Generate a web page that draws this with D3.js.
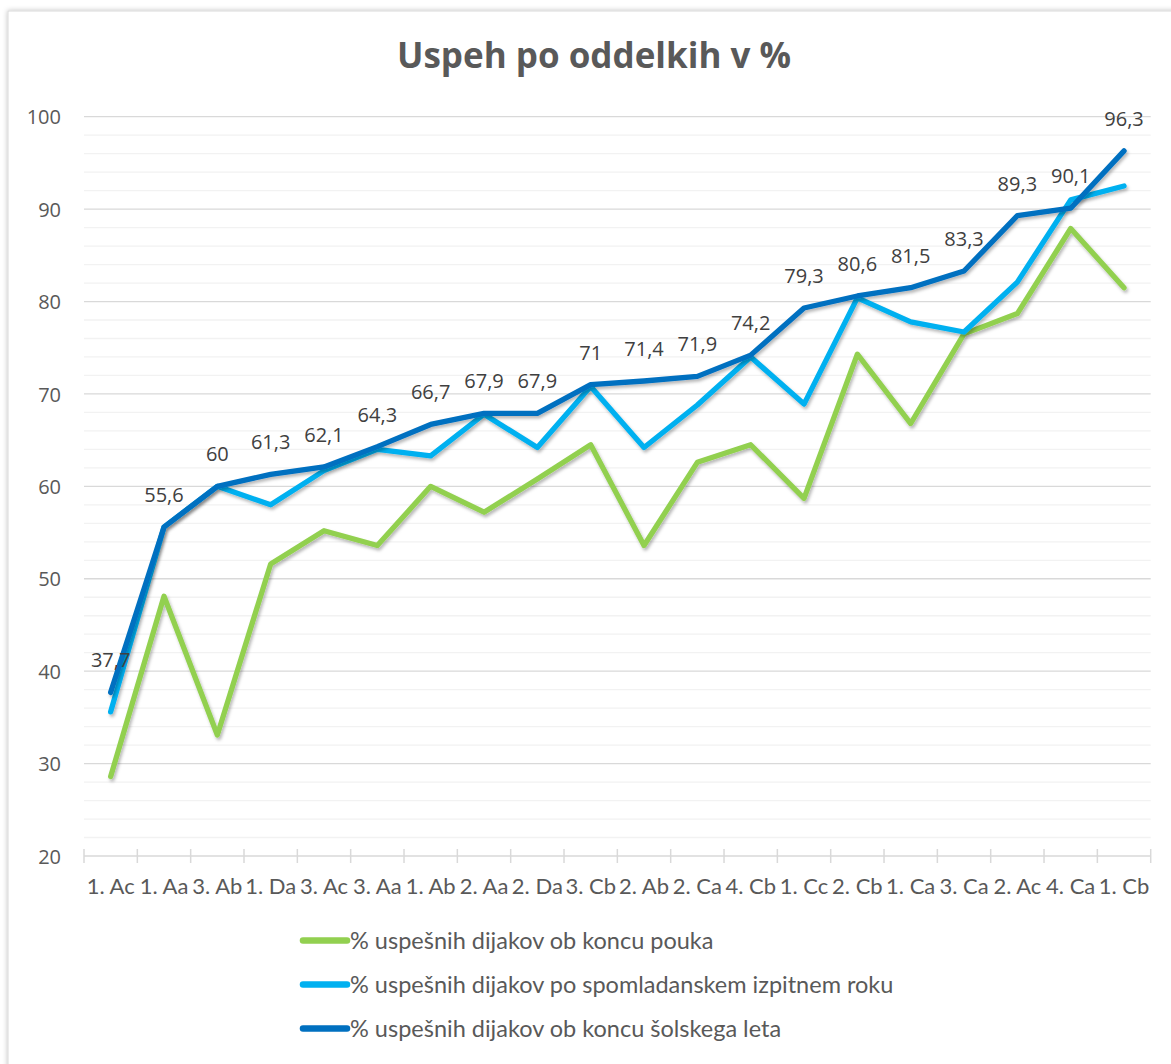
<!DOCTYPE html>
<html>
<head>
<meta charset="utf-8">
<script src="https://cdn.jsdelivr.net/npm/d3@7"></script>
<style>
  body { margin: 0; background: #fff; }
  svg { display: block; font-family: "Open Sans", sans-serif; }
</style>
</head>
<body>
<div class="chartDiv"></div>
<script>
"use strict";

// categories (oddelki)
var categories = ["1. Ac", "1. Aa", "3. Ab", "1. Da", "3. Ac", "3. Aa", "1. Ab", "2. Aa", "2. Da", "3. Cb",
                  "2. Ab", "2. Ca", "4. Cb", "1. Cc", "2. Cb", "1. Ca", "3. Ca", "2. Ac", "4. Ca", "1. Cb"];

// % uspesnih ob koncu pouka
var koncuPouka = [28.6, 48.1, 33.1, 51.6, 55.2, 53.6, 60.0, 57.2, 60.8, 64.5,
                  53.6, 62.6, 64.5, 58.7, 74.3, 66.8, 76.5, 78.7, 87.9, 81.5];
// % uspesnih po spomladanskem izpitnem roku
var spomladanski = [35.6, 55.6, 60.0, 58.0, 61.7, 64.0, 63.3, 67.8, 64.2, 70.8,
                    64.2, 68.8, 74.0, 68.9, 80.4, 77.8, 76.7, 82.1, 91.0, 92.5];
// % uspesnih ob koncu solskega leta (labelled)
var koncuLeta = [37.7, 55.6, 60, 61.3, 62.1, 64.3, 66.7, 67.9, 67.9, 71,
                 71.4, 71.9, 74.2, 79.3, 80.6, 81.5, 83.3, 89.3, 90.1, 96.3];

var yTicks = [20, 30, 40, 50, 60, 70, 80, 90, 100];
var seriesNames = ["% uspešnih dijakov ob koncu pouka",
                   "% uspešnih dijakov po spomladanskem izpitnem roku",
                   "% uspešnih dijakov ob koncu šolskega leta"];
var seriesColors = ["#92D050", "#00B0F0", "#0070C0"];

var W = 1171, H = 1064;
var plot = {left: 84, right: 1150.7, top: 116.7, bottom: 856};

var svg = d3.select(".chartDiv").append("svg")
    .attr("width", W)
    .attr("height", H);

var defs = svg.append("defs");
var shadow = defs.append("filter").attr("id", "lineShadow")
    .attr("x", "-5%").attr("y", "-5%").attr("width", "110%").attr("height", "110%");
shadow.append("feDropShadow")
    .attr("dx", 1.5).attr("dy", 2.5).attr("stdDeviation", 1.6)
    .attr("flood-color", "#000").attr("flood-opacity", 0.28);
var frameShadow = defs.append("filter").attr("id", "frameShadow")
    .attr("x", "-2%").attr("y", "-2%").attr("width", "104%").attr("height", "104%");
frameShadow.append("feDropShadow")
    .attr("dx", 0).attr("dy", 0).attr("stdDeviation", 2.5)
    .attr("flood-color", "#000").attr("flood-opacity", 0.25);

// chart frame
svg.append("rect")
    .attr("x", 8).attr("y", 11)
    .attr("width", W + 20).attr("height", H + 20)
    .attr("fill", "#fff")
    .attr("stroke", "#D9D9D9")
    .attr("stroke-width", 1)
    .attr("filter", "url(#frameShadow)");

var x = d3.scaleBand()
    .domain(categories)
    .range([plot.left, plot.right])
    .padding(0);

var y = d3.scaleLinear()
    .domain([20, 100])
    .range([plot.bottom, plot.top]);

function cx(c) { return x(c) + x.bandwidth() / 2; }

// minor gridlines every 2
svg.append("g")
  .selectAll("line")
  .data(d3.range(22, 100, 2).filter(function(v) { return v % 10 !== 0; }))
  .enter().append("line")
    .attr("x1", plot.left).attr("x2", plot.right)
    .attr("y1", function(d) { return y(d); })
    .attr("y2", function(d) { return y(d); })
    .attr("stroke", "#F2F2F2")
    .attr("stroke-width", 1.3);

// major gridlines
svg.append("g")
  .selectAll("line")
  .data(yTicks.slice(1))
  .enter().append("line")
    .attr("x1", plot.left).attr("x2", plot.right)
    .attr("y1", function(d) { return y(d); })
    .attr("y2", function(d) { return y(d); })
    .attr("stroke", "#D9D9D9")
    .attr("stroke-width", 1.3);

// y axis labels
var yAxis = svg.append("g")
    .attr("transform", "translate(61,0)")
    .call(d3.axisLeft(y).tickValues(yTicks).tickSize(0).tickPadding(0));
yAxis.select(".domain").remove();
yAxis.selectAll("text")
    .attr("font-family", "Open Sans, sans-serif")
    .attr("font-size", 20)
    .attr("fill", "#595959")
    .attr("dy", "0.36em");

// x axis line + cross ticks at category boundaries
svg.append("line")
    .attr("x1", plot.left).attr("x2", plot.right)
    .attr("y1", plot.bottom).attr("y2", plot.bottom)
    .attr("stroke", "#D9D9D9").attr("stroke-width", 1.5);
var bounds = categories.map(function(c) { return x(c); }).concat([plot.right]);
svg.append("g")
  .selectAll("line")
  .data(bounds)
  .enter().append("line")
    .attr("x1", function(d) { return d; }).attr("x2", function(d) { return d; })
    .attr("y1", plot.bottom - 7).attr("y2", plot.bottom + 7)
    .attr("stroke", "#D9D9D9").attr("stroke-width", 1.5);

var xAxis = svg.append("g")
    .attr("transform", "translate(0," + plot.bottom + ")")
    .call(d3.axisBottom(x).tickSize(0).tickPadding(0));
xAxis.select(".domain").remove();
xAxis.selectAll("text")
    .attr("font-family", "Lato, sans-serif")
    .attr("font-size", 22)
    .attr("fill", "#595959")
    .attr("y", 37.5)
    .attr("dy", 0);

// lines
var allSeries = [koncuPouka, spomladanski, koncuLeta];
var valueline = d3.line()
    .x(function(d, i) { return cx(categories[i]); })
    .y(function(d) { return y(d); });

allSeries.forEach(function(s, k) {
  svg.append("path")
      .attr("d", valueline(s))
      .attr("fill", "none")
      .attr("stroke", seriesColors[k])
      .attr("stroke-width", 5.3)
      .attr("stroke-linejoin", "round")
      .attr("stroke-linecap", "round")
      .attr("filter", "url(#lineShadow)");
});

// data labels (dark blue series)
svg.append("g")
  .selectAll("text")
  .data(koncuLeta)
  .enter().append("text")
    .attr("x", function(d, i) { return cx(categories[i]); })
    .attr("y", function(d) { return y(d) - 25; })
    .attr("text-anchor", "middle")
    .attr("font-size", 20)
    .attr("fill", "#404040")
    .text(function(d) { return String(d).replace(".", ","); });

// title
svg.append("text")
    .attr("x", 594).attr("y", 68)
    .attr("text-anchor", "middle")
    .attr("font-size", 35)
    .attr("font-weight", "bold")
    .attr("fill", "#595959")
    .text("Uspeh po oddelkih v %");

// legend
var legend = svg.append("g")
  .selectAll("g")
  .data(seriesNames)
  .enter().append("g")
    .attr("transform", function(d, i) { return "translate(0," + (940.5 + i * 44) + ")"; });
legend.append("line")
    .attr("x1", 303).attr("x2", 347)
    .attr("y1", 0).attr("y2", 0)
    .attr("stroke", function(d, i) { return seriesColors[i]; })
    .attr("stroke-width", 6.5)
    .attr("stroke-linecap", "round");
legend.append("text")
    .attr("x", 350).attr("y", 8)
    .attr("font-family", "Lato, sans-serif")
    .attr("font-size", 23.5)
    .attr("fill", "#595959")
    .text(function(d) { return d; });
</script>
</body>
</html>
